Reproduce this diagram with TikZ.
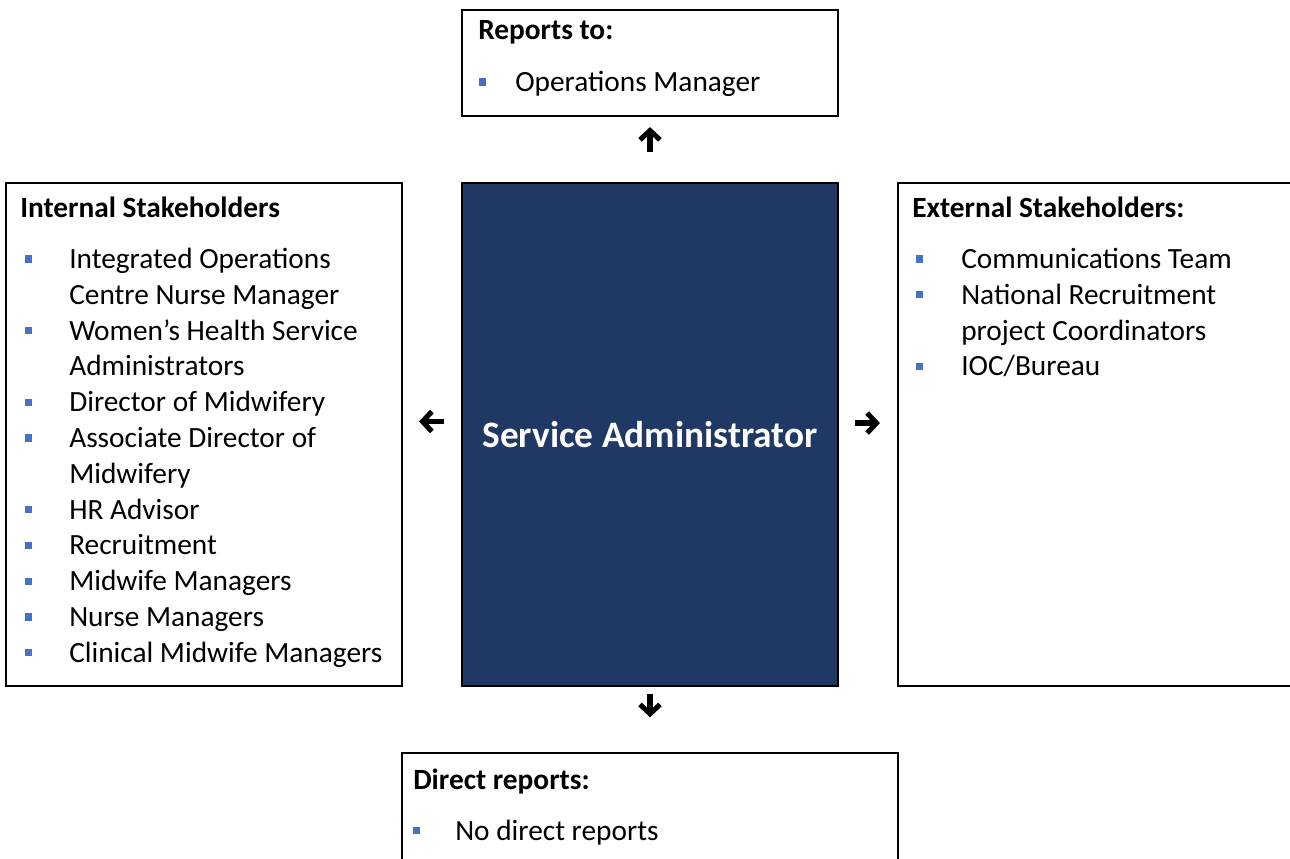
\documentclass[tikz,border=0pt]{standalone}
\usepackage{fontspec}
\setmainfont{Carlito}
\usetikzlibrary{arrows.meta}
\definecolor{navy}{RGB}{32,56,100}
\definecolor{bulletblue}{RGB}{68,114,196}

% one bulleted list: #1 name prefix, #2 bullet x, #3 text x, #4 first baseline y,
% #5 entries flag/text (flag 1 = line starts a new bullet)
\newcommand\bulletlist[5]{%
  \foreach \b/\t [count=\i from 0] in {#5} {
    \node[itemtext] (#1\i) at ({#3}, {#4+\i*35.8}) {\t};
    \ifnum\b=1
      \node[bulletsq] (#1b\i) at ({#2+3.5}, {#4+\i*35.8-9.5}) {};
    \fi
  }%
}

\begin{document}
\begin{tikzpicture}[x=0.75pt, y=-0.75pt,
  box/.style={draw=black, line width=1.6pt, fill=white, inner sep=0pt, rectangle},
  headtext/.style={anchor=base west, inner sep=0pt, font=\fontsize{22}{27}\selectfont\bfseries},
  itemtext/.style={anchor=base west, inner sep=0pt, font=\fontsize{22}{27}\selectfont},
  bulletsq/.style={fill=bulletblue, minimum size=5.4pt, inner sep=0pt},
  bigarrow/.style={line width=4pt, -{Straight Barb[length=7pt, width=15pt, line width=3.8pt]}}
]
\clip (0,0) rectangle (1290,859);
\fill[white] (0,0) rectangle (1290,859);

% boxes
\node[box, minimum width=282pt, minimum height=79.5pt] (top) at (650,63) {};
\node[box, fill=navy, minimum width=282pt, minimum height=377.25pt] (center) at (650,434.5) {};
\node[box, minimum width=297pt, minimum height=377.25pt] (left) at (204,434.5) {};
\node[box, minimum width=309pt, minimum height=377.25pt] (right) at (1104,434.5) {};
\node[box, minimum width=372pt, minimum height=95.25pt] (bottom) at (650,816.5) {};

% central role
\node[font=\fontsize{28}{34}\selectfont\bfseries, text=white, inner sep=0pt] (title) at (center) {Service Administrator};

% arrows between the boxes
\draw[bigarrow, shorten <=22.5pt, shorten >=7.5pt] (center.north) -- (top.south);
\draw[bigarrow, shorten <=5pt, shorten >=26pt] (center.south) -- (bottom.north);
\draw[bigarrow, shorten <=12.75pt, shorten >=12pt] ([yshift=9.75pt]center.west) -- ([yshift=9.75pt]left.east);
\draw[bigarrow, shorten <=12pt, shorten >=12.75pt] ([yshift=8.6pt]center.east) -- ([yshift=8.6pt]right.west);

% reports to
\node[headtext] (tophead) at (478,39.5) {Reports to:};
\bulletlist{T}{479}{515}{91.5}{1/Operations Manager}

% internal stakeholders
\node[headtext] (lefthead) at (20,217.5) {Internal Stakeholders};
\bulletlist{L}{25}{69}{268.5}{1/Integrated Operations, 0/Centre Nurse Manager,
  1/Women’s Health Service, 0/Administrators, 1/Director of Midwifery,
  1/Associate Director of, 0/Midwifery, 1/HR Advisor, 1/Recruitment,
  1/Midwife Managers, 1/Nurse Managers, 1/Clinical Midwife Managers}

% external stakeholders
\node[headtext] (righthead) at (912,217.5) {External Stakeholders:};
\bulletlist{R}{916}{961}{268.5}{1/Communications Team, 1/National Recruitment,
  0/project Coordinators, 1/{IOC/Bureau}}

% direct reports
\node[headtext] (bottomhead) at (413,789) {Direct reports:};
\bulletlist{B}{413}{455}{840}{1/No direct reports}
\end{tikzpicture}
\end{document}
